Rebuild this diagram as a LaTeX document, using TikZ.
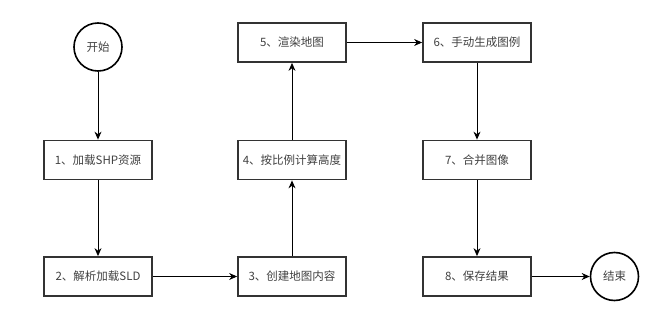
\documentclass[tikz,border=0pt]{standalone}
\usepackage{fontspec}
\setmainfont{Noto Sans CJK SC}
\usetikzlibrary{arrows.meta}
\begin{document}
\begin{tikzpicture}[x=1pt,y=-1pt,
  box/.style={draw=black!80,line width=1.8pt,minimum width=108pt,minimum height=39pt,inner sep=0pt,text=black!75,font=\fontsize{11.5}{13}\selectfont},
  term/.style={circle,draw=black,line width=1.6pt,minimum size=48pt,inner sep=0pt,text=black!75,font=\fontsize{11.5}{13}\selectfont},
  conn/.style={draw=black,line width=0.9pt,-{Stealth[length=8pt,width=7pt]}}]
\useasboundingbox (0,0) rectangle (672,321);
\node[term] (s) at (98,47) {开始};
\node[box] (b1) at (98,160) {1、加载SHP资源};
\node[box] (b2) at (98,276.5) {2、解析加载SLD};
\node[box] (b3) at (292,276.5) {3、创建地图内容};
\node[box] (b4) at (292,160) {4、按比例计算高度};
\node[box] (b5) at (292,42.5) {5、渲染地图};
\node[box] (b6) at (477,42.5) {6、手动生成图例};
\node[box] (b7) at (477,160) {7、合并图像};
\node[box] (b8) at (477,276.5) {8、保存结果};
\node[term] (e) at (614.5,276.5) {结束};
\draw[conn] (s) -- (b1);
\draw[conn] (b1) -- (b2);
\draw[conn] (b2) -- (b3);
\draw[conn] (b3) -- (b4);
\draw[conn] (b4) -- (b5);
\draw[conn] (b5) -- (b6);
\draw[conn] (b6) -- (b7);
\draw[conn] (b7) -- (b8);
\draw[conn] (b8) -- (e);
\end{tikzpicture}
\end{document}
